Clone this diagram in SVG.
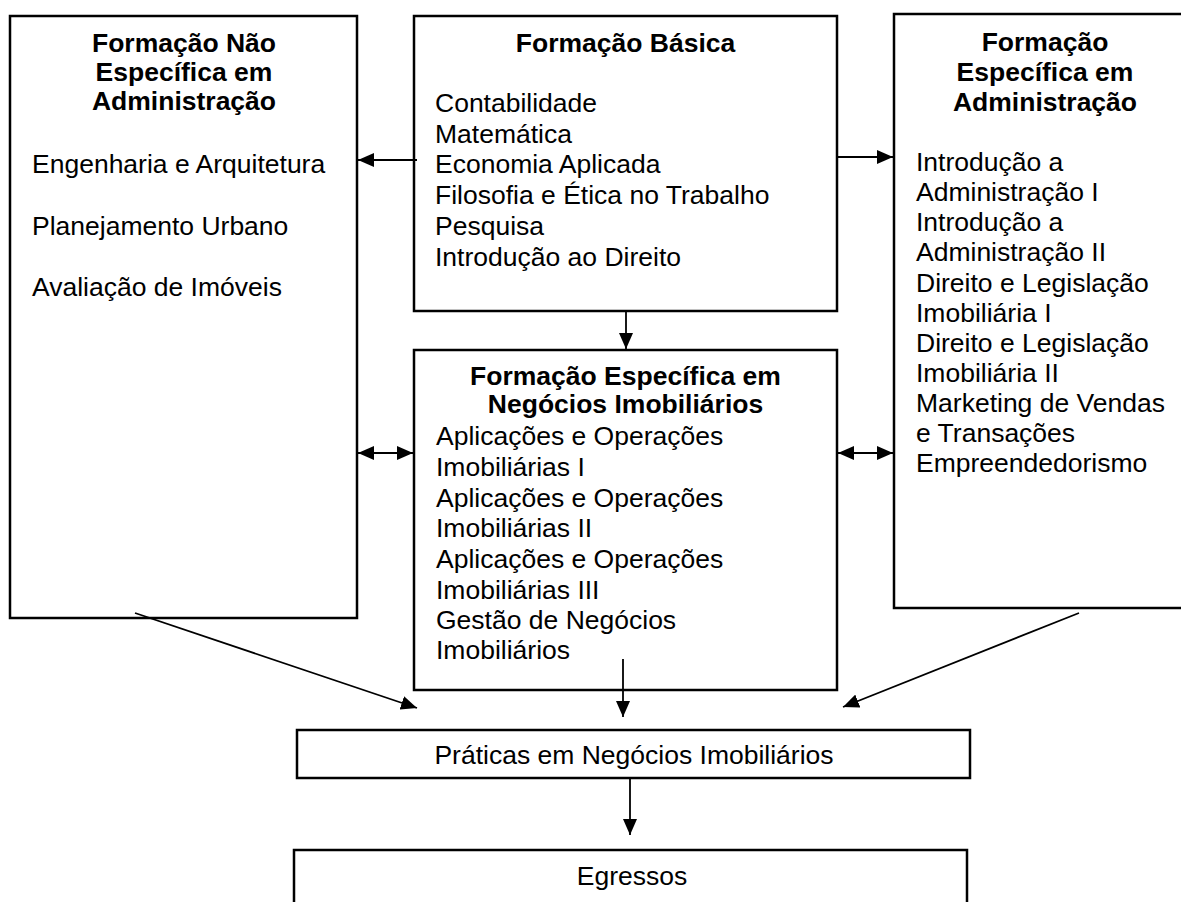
<svg xmlns="http://www.w3.org/2000/svg" width="1181" height="902" viewBox="0 0 1181 902">
  <style>
    .box { fill: #ffffff; stroke: #000000; stroke-width: 2.5; }
    .t { font-family: "Liberation Sans", Arial, sans-serif; font-size: 26.5px; fill: #000000; }
    .b { font-weight: bold; }
    .c { text-anchor: middle; }
    .link { stroke: #000000; stroke-width: 1.8; fill: none; }
  </style>
  <defs>
    <marker id="head" viewBox="0 0 16 14" refX="16" refY="7" markerWidth="16" markerHeight="14" markerUnits="userSpaceOnUse" orient="auto-start-reverse">
      <path d="M0,0 L16,7 L0,14 Z" fill="#000000"/>
    </marker>
  </defs>
  <rect width="1181" height="902" fill="#ffffff"/>

  <!-- Formação Não Específica em Administração -->
  <g id="nao-especifica">
    <rect class="box" x="10" y="16" width="347" height="602"/>
    <text class="t b c" x="184" y="52">Formação Não</text>
    <text class="t b c" x="184" y="81">Específica em</text>
    <text class="t b c" x="184" y="110">Administração</text>
    <text class="t" x="32" y="173">Engenharia e Arquitetura</text>
    <text class="t" x="32" y="235">Planejamento Urbano</text>
    <text class="t" x="32" y="296">Avaliação de Imóveis</text>
  </g>

  <!-- Formação Básica -->
  <g id="basica">
    <rect class="box" x="414" y="16" width="423" height="295"/>
    <text class="t b c" x="625.5" y="52">Formação Básica</text>
    <text class="t" x="435" y="112">Contabilidade</text>
    <text class="t" x="435" y="143">Matemática</text>
    <text class="t" x="435" y="173">Economia Aplicada</text>
    <text class="t" x="435" y="204">Filosofia e Ética no Trabalho</text>
    <text class="t" x="435" y="235">Pesquisa</text>
    <text class="t" x="435" y="266">Introdução ao Direito</text>
  </g>

  <!-- Formação Específica em Administração -->
  <g id="especifica-adm">
    <rect class="box" x="894" y="14" width="302" height="594"/>
    <text class="t b c" x="1045" y="51">Formação</text>
    <text class="t b c" x="1045" y="81">Específica em</text>
    <text class="t b c" x="1045" y="111">Administração</text>
    <text class="t" x="916" y="171">Introdução a</text>
    <text class="t" x="916" y="201">Administração I</text>
    <text class="t" x="916" y="231">Introdução a</text>
    <text class="t" x="916" y="261">Administração II</text>
    <text class="t" x="916" y="292">Direito e Legislação</text>
    <text class="t" x="916" y="322">Imobiliária I</text>
    <text class="t" x="916" y="352">Direito e Legislação</text>
    <text class="t" x="916" y="382">Imobiliária II</text>
    <text class="t" x="916" y="412">Marketing de Vendas</text>
    <text class="t" x="916" y="442">e Transações</text>
    <text class="t" x="916" y="472">Empreendedorismo</text>
  </g>

  <!-- Formação Específica em Negócios Imobiliários -->
  <g id="especifica-negocios">
    <rect class="box" x="414" y="350" width="423" height="340"/>
    <text class="t b c" x="625.5" y="385">Formação Específica em</text>
    <text class="t b c" x="625.5" y="413">Negócios Imobiliários</text>
    <text class="t" x="436" y="445">Aplicações e Operações</text>
    <text class="t" x="436" y="476">Imobiliárias I</text>
    <text class="t" x="436" y="507">Aplicações e Operações</text>
    <text class="t" x="436" y="537">Imobiliárias II</text>
    <text class="t" x="436" y="568">Aplicações e Operações</text>
    <text class="t" x="436" y="599">Imobiliárias III</text>
    <text class="t" x="436" y="629">Gestão de Negócios</text>
    <text class="t" x="436" y="659">Imobiliários</text>
  </g>

  <!-- Práticas em Negócios Imobiliários -->
  <g id="praticas">
    <rect class="box" x="297" y="730" width="673" height="48"/>
    <text class="t c" x="634" y="764">Práticas em Negócios Imobiliários</text>
  </g>

  <!-- Egressos -->
  <g id="egressos">
    <rect class="box" x="294" y="850" width="673" height="70"/>
    <text class="t c" x="632" y="885">Egressos</text>
  </g>

  <!-- Connectors -->
  <g id="connectors">
    <line class="link" x1="417" y1="160" x2="358" y2="160" marker-end="url(#head)"/>
    <line class="link" x1="837" y1="157" x2="893" y2="157" marker-end="url(#head)"/>
    <line class="link" x1="626" y1="311" x2="626" y2="349" marker-end="url(#head)"/>
    <line class="link" x1="358" y1="453" x2="413" y2="453" marker-start="url(#head)" marker-end="url(#head)"/>
    <line class="link" x1="838" y1="453" x2="893" y2="453" marker-start="url(#head)" marker-end="url(#head)"/>
    <line class="link" x1="135" y1="613" x2="417" y2="708" marker-end="url(#head)"/>
    <line class="link" x1="623" y1="659" x2="623" y2="717" marker-end="url(#head)"/>
    <line class="link" x1="1079" y1="613" x2="843" y2="707" marker-end="url(#head)"/>
    <line class="link" x1="630" y1="778" x2="630" y2="835" marker-end="url(#head)"/>
  </g>
</svg>
